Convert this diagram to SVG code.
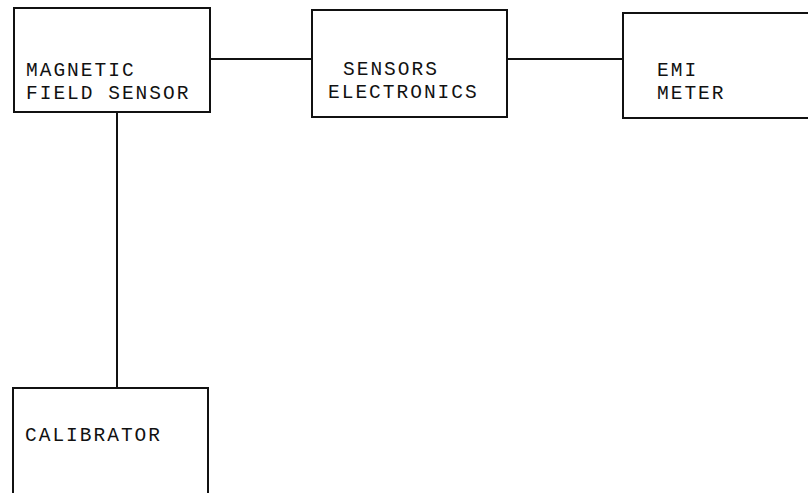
<svg xmlns="http://www.w3.org/2000/svg" width="808" height="493" viewBox="0 0 808 493">
<style>
.box{fill:none;stroke:#111;stroke-width:2}
.wire{fill:none;stroke:#111;stroke-width:2}
.t{font-family:"Liberation Mono","Courier New",monospace;font-size:19.5px;letter-spacing:2px;fill:#111}
</style>
<rect width="808" height="493" fill="#fff"/>
<g id="connectors">
<line class="wire" x1="210" y1="59" x2="312" y2="59"/>
<line class="wire" x1="507" y1="59" x2="623" y2="59"/>
<line class="wire" x1="117" y1="112" x2="117" y2="388"/>
</g>
<g id="magnetic-field-sensor">
<rect class="box" x="14" y="8" width="196" height="104"/>
<text class="t" x="26" y="76">MAGNETIC</text>
<text class="t" x="26" y="99">FIELD SENSOR</text>
</g>
<g id="sensors-electronics">
<rect class="box" x="312" y="10" width="195" height="107"/>
<text class="t" x="343" y="75">SENSORS</text>
<text class="t" x="328" y="98">ELECTRONICS</text>
</g>
<g id="emi-meter">
<rect class="box" x="623" y="13" width="200" height="105"/>
<text class="t" x="657" y="76">EMI</text>
<text class="t" x="657" y="99">METER</text>
</g>
<g id="calibrator">
<rect class="box" x="13" y="388" width="195" height="120"/>
<text class="t" x="25" y="441">CALIBRATOR</text>
</g>
</svg>
